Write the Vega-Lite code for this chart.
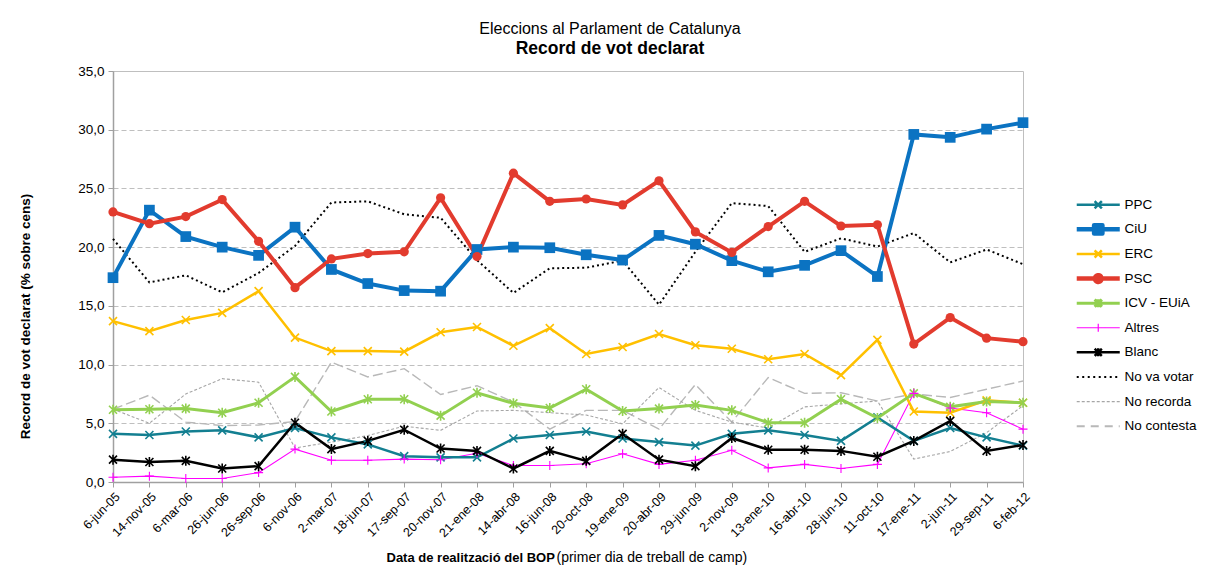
{
  "$schema": "https://vega.github.io/schema/vega-lite/v6.json",
  "width": 910,
  "height": 411,
  "autosize": {"type": "none"},
  "padding": {"left": 113, "top": 71, "right": 191, "bottom": 83},
  "background": "white",
  "config": {
    "font": "Liberation Sans",
    "view": {"stroke": "#BFBFBF", "strokeWidth": 1}
  },
  "title": {
    "text": "Eleccions al Parlament de Catalunya",
    "subtitle": "Record de vot declarat",
    "fontSize": 16,
    "fontWeight": "normal",
    "color": "black",
    "subtitleFontSize": 17.5,
    "subtitleFontWeight": "bold",
    "subtitleColor": "black",
    "subtitleFont": "Liberation Sans",
    "subtitlePadding": 3,
    "anchor": "middle",
    "dx": 42,
    "offset": 7
  },
  "data": {
    "values": [
      {"d": "6-jun-05", "PPC": 4.1, "CiU": 17.4, "ERC": 13.7, "PSC": 23.0, "ICV - EUiA": 6.15, "Altres": 0.4, "Blanc": 1.9, "No va votar": 20.7, "No recorda": 6.2, "No contesta": 6.2},
      {"d": "14-nov-05", "PPC": 4.0, "CiU": 23.15, "ERC": 12.85, "PSC": 22.0, "ICV - EUiA": 6.2, "Altres": 0.5, "Blanc": 1.7, "No va votar": 17.0, "No recorda": 5.0, "No contesta": 7.4},
      {"d": "6-mar-06", "PPC": 4.3, "CiU": 20.9, "ERC": 13.8, "PSC": 22.6, "ICV - EUiA": 6.25, "Altres": 0.3, "Blanc": 1.8, "No va votar": 17.6, "No recorda": 7.5, "No contesta": 5.1},
      {"d": "26-jun-06", "PPC": 4.4, "CiU": 20.0, "ERC": 14.4, "PSC": 24.05, "ICV - EUiA": 5.9, "Altres": 0.3, "Blanc": 1.15, "No va votar": 16.15, "No recorda": 8.8, "No contesta": 4.8},
      {"d": "26-sep-06", "PPC": 3.8, "CiU": 19.3, "ERC": 16.25, "PSC": 20.5, "ICV - EUiA": 6.75, "Altres": 0.8, "Blanc": 1.35, "No va votar": 17.8, "No recorda": 8.5, "No contesta": 4.85},
      {"d": "6-nov-06", "PPC": 4.6, "CiU": 21.7, "ERC": 12.3, "PSC": 16.55, "ICV - EUiA": 8.95, "Altres": 2.8, "Blanc": 5.05, "No va votar": 20.1, "No recorda": 2.9, "No contesta": 5.15},
      {"d": "2-mar-07", "PPC": 3.8, "CiU": 18.1, "ERC": 11.15, "PSC": 19.0, "ICV - EUiA": 6.0, "Altres": 1.85, "Blanc": 2.8, "No va votar": 23.8, "No recorda": 3.4, "No contesta": 10.2},
      {"d": "18-jun-07", "PPC": 3.2, "CiU": 16.9, "ERC": 11.15, "PSC": 19.45, "ICV - EUiA": 7.05, "Altres": 1.85, "Blanc": 3.5, "No va votar": 23.9, "No recorda": 3.95, "No contesta": 8.95},
      {"d": "17-sep-07", "PPC": 2.2, "CiU": 16.3, "ERC": 11.1, "PSC": 19.6, "ICV - EUiA": 7.05, "Altres": 1.95, "Blanc": 4.45, "No va votar": 22.8, "No recorda": 4.75, "No contesta": 9.65},
      {"d": "20-nov-07", "PPC": 2.1, "CiU": 16.25, "ERC": 12.75, "PSC": 24.2, "ICV - EUiA": 5.65, "Altres": 1.9, "Blanc": 2.85, "No va votar": 22.5, "No recorda": 4.4, "No contesta": 7.45},
      {"d": "21-ene-08", "PPC": 2.1, "CiU": 19.8, "ERC": 13.2, "PSC": 19.2, "ICV - EUiA": 7.6, "Altres": 2.45, "Blanc": 2.65, "No va votar": 18.9, "No recorda": 6.05, "No contesta": 8.2},
      {"d": "14-abr-08", "PPC": 3.7, "CiU": 20.0, "ERC": 11.6, "PSC": 26.3, "ICV - EUiA": 6.7, "Altres": 1.4, "Blanc": 1.15, "No va votar": 16.1, "No recorda": 6.1, "No contesta": 6.8},
      {"d": "16-jun-08", "PPC": 4.0, "CiU": 19.95, "ERC": 13.1, "PSC": 23.9, "ICV - EUiA": 6.3, "Altres": 1.4, "Blanc": 2.65, "No va votar": 18.2, "No recorda": 5.9, "No contesta": 4.5},
      {"d": "20-oct-08", "PPC": 4.3, "CiU": 19.35, "ERC": 10.9, "PSC": 24.1, "ICV - EUiA": 7.9, "Altres": 1.55, "Blanc": 1.8, "No va votar": 18.25, "No recorda": 5.7, "No contesta": 6.1},
      {"d": "19-ene-09", "PPC": 3.7, "CiU": 18.9, "ERC": 11.5, "PSC": 23.6, "ICV - EUiA": 6.05, "Altres": 2.4, "Blanc": 4.1, "No va votar": 18.85, "No recorda": 4.95, "No contesta": 6.1},
      {"d": "20-abr-09", "PPC": 3.4, "CiU": 21.0, "ERC": 12.6, "PSC": 25.65, "ICV - EUiA": 6.25, "Altres": 1.5, "Blanc": 1.9, "No va votar": 15.1, "No recorda": 8.05, "No contesta": 4.5},
      {"d": "29-jun-09", "PPC": 3.1, "CiU": 20.25, "ERC": 11.65, "PSC": 21.3, "ICV - EUiA": 6.55, "Altres": 1.85, "Blanc": 1.35, "No va votar": 19.6, "No recorda": 6.1, "No contesta": 8.3},
      {"d": "2-nov-09", "PPC": 4.1, "CiU": 18.85, "ERC": 11.35, "PSC": 19.55, "ICV - EUiA": 6.1, "Altres": 2.7, "Blanc": 3.75, "No va votar": 23.75, "No recorda": 5.1, "No contesta": 5.1},
      {"d": "13-ene-10", "PPC": 4.4, "CiU": 17.9, "ERC": 10.45, "PSC": 21.75, "ICV - EUiA": 5.05, "Altres": 1.2, "Blanc": 2.75, "No va votar": 23.5, "No recorda": 4.6, "No contesta": 8.9},
      {"d": "16-abr-10", "PPC": 4.0, "CiU": 18.45, "ERC": 10.9, "PSC": 23.9, "ICV - EUiA": 5.05, "Altres": 1.5, "Blanc": 2.75, "No va votar": 19.6, "No recorda": 6.4, "No contesta": 7.55},
      {"d": "28-jun-10", "PPC": 3.5, "CiU": 19.7, "ERC": 9.1, "PSC": 21.8, "ICV - EUiA": 7.05, "Altres": 1.15, "Blanc": 2.65, "No va votar": 20.75, "No recorda": 6.65, "No contesta": 7.6},
      {"d": "11-oct-10", "PPC": 5.5, "CiU": 17.5, "ERC": 12.1, "PSC": 21.9, "ICV - EUiA": 5.45, "Altres": 1.5, "Blanc": 2.15, "No va votar": 20.05, "No recorda": 6.9, "No contesta": 6.9},
      {"d": "17-ene-11", "PPC": 3.5, "CiU": 29.6, "ERC": 6.0, "PSC": 11.75, "ICV - EUiA": 7.55, "Altres": 7.55, "Blanc": 3.5, "No va votar": 21.2, "No recorda": 1.95, "No contesta": 7.5},
      {"d": "2-jun-11", "PPC": 4.6, "CiU": 29.35, "ERC": 5.9, "PSC": 14.0, "ICV - EUiA": 6.4, "Altres": 6.3, "Blanc": 5.2, "No va votar": 18.7, "No recorda": 2.6, "No contesta": 7.2},
      {"d": "29-sep-11", "PPC": 3.8, "CiU": 30.05, "ERC": 6.95, "PSC": 12.25, "ICV - EUiA": 6.85, "Altres": 5.9, "Blanc": 2.65, "No va votar": 19.8, "No recorda": 4.2, "No contesta": 7.9},
      {"d": "6-feb-12", "PPC": 3.1, "CiU": 30.6, "ERC": 6.75, "PSC": 11.95, "ICV - EUiA": 6.75, "Altres": 4.5, "Blanc": 3.15, "No va votar": 18.55, "No recorda": 6.5, "No contesta": 8.6}
    ]
  },
  "transform": [
    {"fold": ["PPC", "CiU", "ERC", "PSC", "ICV - EUiA", "Altres", "Blanc", "No va votar", "No recorda", "No contesta"], "as": ["serie", "value"]}
  ],
  "encoding": {
    "x": {
      "field": "d", "type": "ordinal",
      "scale": {"type": "point", "padding": 0, "domain": ["6-jun-05", "14-nov-05", "6-mar-06", "26-jun-06", "26-sep-06", "6-nov-06", "2-mar-07", "18-jun-07", "17-sep-07", "20-nov-07", "21-ene-08", "14-abr-08", "16-jun-08", "20-oct-08", "19-ene-09", "20-abr-09", "29-jun-09", "2-nov-09", "13-ene-10", "16-abr-10", "28-jun-10", "11-oct-10", "17-ene-11", "2-jun-11", "29-sep-11", "6-feb-12"]},
      "axis": null
    },
    "y": {"field": "value", "type": "quantitative", "scale": {"domain": [0, 35], "nice": false}, "axis": null},
    "color": {
      "field": "serie", "type": "nominal",
      "scale": {
        "domain": ["PPC", "CiU", "ERC", "PSC", "ICV - EUiA", "Altres", "Blanc", "No va votar", "No recorda", "No contesta"],
        "range": ["#137F91", "#0B73C2", "#FFC000", "#E23B2E", "#92D050", "#FF00FF", "#000000", "#000000", "#A6A6A6", "#B8B8B8"]
      },
      "legend": null
    }
  },
  "resolve": {"axis": {"x": "independent", "y": "independent"}},
  "layer": [
    {
      "transform": [{"filter": {"field": "serie", "equal": "No contesta"}}],
      "mark": {"type": "line", "strokeWidth": 1.4, "strokeDash": [10, 4]},
      "encoding": {
        "x": {
          "field": "d", "type": "ordinal",
          "scale": {"type": "point", "padding": 0, "domain": ["6-jun-05", "14-nov-05", "6-mar-06", "26-jun-06", "26-sep-06", "6-nov-06", "2-mar-07", "18-jun-07", "17-sep-07", "20-nov-07", "21-ene-08", "14-abr-08", "16-jun-08", "20-oct-08", "19-ene-09", "20-abr-09", "29-jun-09", "2-nov-09", "13-ene-10", "16-abr-10", "28-jun-10", "11-oct-10", "17-ene-11", "2-jun-11", "29-sep-11", "6-feb-12"]},
          "axis": {
            "orient": "bottom",
            "labelAngle": -45,
            "labelFontSize": 12.5,
            "labelColor": "black",
            "labelPadding": 3,
            "ticks": true,
            "tickSize": 5,
            "tickColor": "#A0A0A0",
            "domainColor": "#A0A0A0",
            "domainWidth": 1.5,
            "grid": false,
            "title": "Data de realització del BOP",
            "titleFontSize": 13,
            "titleFontWeight": "bold",
            "titleColor": "black",
            "titleAnchor": "start",
            "titleAlign": "left",
            "titleX": 273,
            "titleY": 79,
            "titleBaseline": "alphabetic"
          }
        },
        "y": {
          "field": "value", "type": "quantitative",
          "scale": {"domain": [0, 35], "nice": false},
          "axis": {
            "values": [0, 5, 10, 15, 20, 25, 30, 35],
            "labelExpr": "replace(format(datum.value, '.1f'), '.', ',')",
            "labelFontSize": 13.5,
            "labelColor": "black",
            "labelPadding": 4,
            "tickSize": 5,
            "tickColor": "#A0A0A0",
            "domainColor": "#A0A0A0",
            "domainWidth": 1.5,
            "grid": true,
            "gridColor": "#BFBFBF",
            "gridDash": [5, 3],
            "gridWidth": 1,
            "title": "Record de vot declarat (% sobre cens)",
            "titleFontSize": 13.5,
            "titleFontWeight": "bold",
            "titleColor": "black",
            "titleAngle": -90,
            "titleX": -88,
            "titleY": 245,
            "titleAlign": "center",
            "titleBaseline": "middle"
          }
        },
        "color": {
          "field": "serie", "type": "nominal",
          "scale": {
            "domain": ["PPC", "CiU", "ERC", "PSC", "ICV - EUiA", "Altres", "Blanc", "No va votar", "No recorda", "No contesta"],
            "range": ["#137F91", "#0B73C2", "#FFC000", "#E23B2E", "#92D050", "#FF00FF", "#000000", "#000000", "#A6A6A6", "#B8B8B8"]
          },
          "legend": {
            "orient": "none",
            "legendX": 978.5,
            "legendY": 127,
            "title": null,
            "padding": 0,
            "labelFontSize": 13.5,
            "labelColor": "black",
            "symbolSize": 256,
            "rowPadding": 9.6,
            "labelOffset": 19.5,
            "encoding": {
              "symbols": {
                "shape": {"value": {"expr": "(datum.value === 'PPC' || datum.value === 'ERC') ? 'M-2.69,0H2.69M-0.45,-0.45L0.45,0.45M-0.45,0.45L0.45,-0.45' : datum.value === 'CiU' ? 'M-2.69,0H2.69M-0.52,-0.52H0.52V0.52H-0.52Z' : datum.value === 'PSC' ? 'M-2.69,0H2.69M0.42,0A0.42,0.42,0,1,1,-0.42,0A0.42,0.42,0,1,1,0.42,0Z' : (datum.value === 'ICV - EUiA' || datum.value === 'Blanc') ? 'M-2.69,0H2.69M-0.45,-0.45L0.45,0.45M-0.45,0.45L0.45,-0.45M0,-0.5V0.5' : datum.value === 'Altres' ? 'M-2.69,0H2.69M0,-0.5V0.5' : 'M-2.69,0H2.69'"}},
                "fill": {"value": {"expr": "datum.value === 'CiU' ? '#0B73C2' : datum.value === 'PSC' ? '#E23B2E' : 'transparent'"}},
                "strokeWidth": {"value": {"expr": "(datum.value === 'CiU' || datum.value === 'PSC') ? 4.5 : datum.value === 'ICV - EUiA' ? 3 : (datum.value === 'Altres' || datum.value === 'No recorda') ? 1.2 : (datum.value === 'No va votar' || datum.value === 'No contesta') ? 2 : 2.5"}},
                "strokeDash": {"value": {"expr": "datum.value === 'No va votar' ? [2, 3.5] : datum.value === 'No recorda' ? [3, 2] : datum.value === 'No contesta' ? [8, 6] : [1, 0]"}},
                "strokeJoin": {"value": "round"}
              }
            }
          }
        }
      }
    },
    {
      "transform": [{"filter": {"field": "serie", "equal": "No recorda"}}],
      "mark": {"type": "line", "strokeWidth": 1.1, "strokeDash": [3, 2]},
      "encoding": {}
    },
    {
      "transform": [{"filter": {"field": "serie", "equal": "No va votar"}}],
      "mark": {"type": "line", "strokeWidth": 2, "strokeDash": [2, 3]},
      "encoding": {}
    },
    {
      "transform": [{"filter": {"field": "serie", "equal": "Altres"}}],
      "mark": {"type": "line", "strokeWidth": 1.1},
      "encoding": {}
    },
    {
      "transform": [{"filter": {"field": "serie", "oneOf": ["PPC", "ERC", "Blanc"]}}],
      "mark": {"type": "line", "strokeWidth": 2.5},
      "encoding": {}
    },
    {
      "transform": [{"filter": {"field": "serie", "equal": "ICV - EUiA"}}],
      "mark": {"type": "line", "strokeWidth": 3},
      "encoding": {}
    },
    {
      "transform": [{"filter": {"field": "serie", "oneOf": ["CiU", "PSC"]}}],
      "mark": {"type": "line", "strokeWidth": 4},
      "encoding": {}
    },
    {
      "transform": [{"filter": {"field": "serie", "oneOf": ["CiU", "PSC"]}}],
      "mark": {"type": "point", "filled": true, "opacity": 1},
      "encoding": {
        "shape": {"condition": {"test": "datum.serie === 'CiU'", "value": "square"}, "value": "circle"},
        "size": {"condition": {"test": "datum.serie === 'CiU'", "value": 115}, "value": 85}
      }
    },
    {
      "transform": [{"filter": {"field": "serie", "oneOf": ["PPC", "ERC", "ICV - EUiA", "Altres", "Blanc"]}}],
      "mark": {"type": "point", "filled": false, "opacity": 1, "size": 100},
      "encoding": {
        "x": {
          "field": "d", "type": "ordinal",
          "scale": {"type": "point", "padding": 0, "domain": ["6-jun-05", "14-nov-05", "6-mar-06", "26-jun-06", "26-sep-06", "6-nov-06", "2-mar-07", "18-jun-07", "17-sep-07", "20-nov-07", "21-ene-08", "14-abr-08", "16-jun-08", "20-oct-08", "19-ene-09", "20-abr-09", "29-jun-09", "2-nov-09", "13-ene-10", "16-abr-10", "28-jun-10", "11-oct-10", "17-ene-11", "2-jun-11", "29-sep-11", "6-feb-12"]},
          "axis": {
            "orient": "bottom",
            "labels": false,
            "ticks": false,
            "domain": false,
            "grid": false,
            "title": "(primer dia de treball de camp)",
            "titleFontSize": 14,
            "titleFontWeight": "normal",
            "titleColor": "black",
            "titleAnchor": "start",
            "titleAlign": "left",
            "titleX": 443,
            "titleY": 79,
            "titleBaseline": "alphabetic"
          }
        },
        "shape": {
          "condition": [
            {"test": "datum.serie === 'PPC' || datum.serie === 'ERC'", "value": "M-0.8,-0.8L0.8,0.8M-0.8,0.8L0.8,-0.8"},
            {"test": "datum.serie === 'Altres'", "value": "M-0.9,0H0.9M0,-0.9V0.9"}
          ],
          "value": "M-0.8,-0.8L0.8,0.8M-0.8,0.8L0.8,-0.8M0,-1V1"
        },
        "strokeWidth": {"condition": {"test": "datum.serie === 'Altres'", "value": 1.1}, "value": 1.6}
      }
    }
  ]
}
